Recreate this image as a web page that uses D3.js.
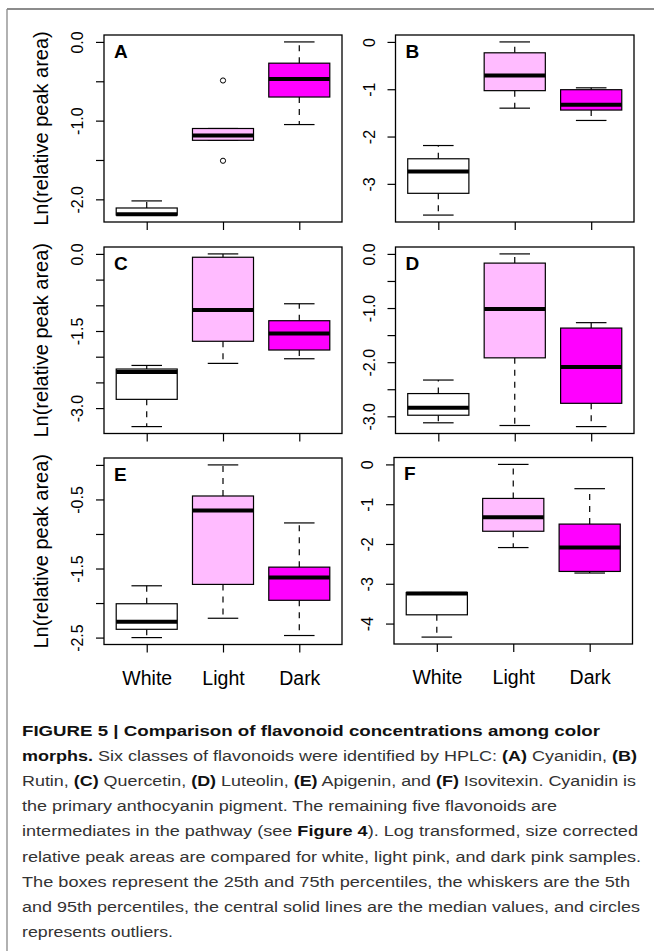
<!DOCTYPE html>
<html><head><meta charset="utf-8">
<script src="https://cdn.jsdelivr.net/npm/d3@7/dist/d3.min.js"></script>
<style>body{margin:0;background:#fff}</style>
</head><body><svg id="fig" width="654" height="951"></svg>
<script>
// ---------------- data ----------------
const categories = ["White", "Light", "Dark"];
const panelLetters = ["A", "B", "C", "D", "E", "F"];
const yTitle = "Ln(relative peak area)";

// per panel: [White, Light, Dark]
const whiskerLow = [
  [-2.20, -1.25, -1.05],
  [-3.66, -1.40, -1.66],
  [-3.36, -2.13, -2.04],
  [-3.12, -3.17, -3.19],
  [-2.50, -2.22, -2.47],
  [-4.34, -2.09, -2.73]];
const q1 = [
  [-2.20, -1.25, -0.70],
  [-3.20, -1.03, -1.44],
  [-2.83, -1.70, -1.87],
  [-2.98, -1.92, -2.76],
  [-2.38, -1.73, -1.96],
  [-3.78, -1.68, -2.69]];
const median = [
  [-2.19, -1.19, -0.47],
  [-2.74, -0.71, -1.33],
  [-2.30, -1.09, -1.55],
  [-2.84, -1.02, -2.09],
  [-2.27, -0.66, -1.63],
  [-3.245, -1.33, -2.09]];
const q3 = [
  [-2.11, -1.10, -0.27],
  [-2.47, -0.23, -1.01],
  [-2.24, -0.065, -1.30],
  [-2.58, -0.17, -1.37],
  [-2.01, -0.45, -1.48],
  [-3.22, -0.855, -1.50]];
const whiskerHigh = [
  [-2.02, -1.10, 0.00],
  [-2.19, 0.00, -0.97],
  [-2.17, 0.00, -0.97],
  [-2.33, 0.00, -1.27],
  [-1.75, 0.00, -0.84],
  [-3.22, 0.00, -0.61]];
const outliers = [
  [[], [-0.49, -1.51], []],
  [[], [], []],
  [[], [], []],
  [[], [], []],
  [[], [], []],
  [[], [], []]];

const yTicks = [
  [0, -0.5, -1, -1.5, -2],
  [0, -1, -2, -3],
  [0, -0.5, -1, -1.5, -2, -2.5, -3],
  [0, -0.5, -1, -1.5, -2, -2.5, -3],
  [0, -0.5, -1, -1.5, -2, -2.5],
  [0, -1, -2, -3, -4]];
const yTickLabels = [
  ["0.0", "", "-1.0", "", "-2.0"],
  ["0", "-1", "-2", "-3"],
  ["0.0", "", "", "-1.5", "", "", "-3.0"],
  ["0.0", "", "-1.0", "", "-2.0", "", "-3.0"],
  ["", "-0.5", "", "-1.5", "", "-2.5"],
  ["0", "-1", "-2", "-3", "-4"]];

const captionLines = [
  [["FIGURE 5 | Comparison of flavonoid concentrations among color", true]],
  [["morphs.", true], [" Six classes of flavonoids were identified by HPLC: ", false], ["(A)", true], [" Cyanidin, ", false], ["(B)", true]],
  [["Rutin, ", false], ["(C)", true], [" Quercetin, ", false], ["(D)", true], [" Luteolin, ", false], ["(E)", true], [" Apigenin, and ", false], ["(F)", true], [" Isovitexin. Cyanidin is", false]],
  [["the primary anthocyanin pigment. The remaining five flavonoids are", false]],
  [["intermediates in the pathway (see ", false], ["Figure 4", true], ["). Log transformed, size corrected", false]],
  [["relative peak areas are compared for white, light pink, and dark pink samples.", false]],
  [["The boxes represent the 25th and 75th percentiles, the whiskers are the 5th", false]],
  [["and 95th percentiles, the central solid lines are the median values, and circles", false]],
  [["represents outliers.", false]]];

// ---------------- style / layout ----------------
const boxFills = ["#FFFFFF", "#FFBBFF", "#FF00FF"];
const FONT = "'Liberation Sans', Arial, Helvetica, sans-serif";
const panelRects = [
  {x0: 104, x1: 342, y0: 35, y1: 222},
  {x0: 395.5, x1: 634, y0: 35, y1: 222},
  {x0: 104, x1: 342, y0: 247, y1: 433.5},
  {x0: 395.5, x1: 634, y0: 247, y1: 433.5},
  {x0: 104, x1: 342, y0: 458, y1: 644.5},
  {x0: 394, x1: 632.5, y0: 457.5, y1: 644}];
const captionEnds = [600, 637, 636, 557, 638, 641, 630, 640, 173];

const svg = d3.select("#fig");
svg.append("rect").attr("width", 654).attr("height", 951).attr("fill", "#fff");

// outer frame (top + left)
svg.append("line").attr("x1", 7).attr("x2", 654).attr("y1", 9).attr("y2", 9)
  .attr("stroke", "#666").attr("stroke-width", 1.3);
svg.append("line").attr("x1", 7).attr("x2", 7).attr("y1", 9).attr("y2", 951)
  .attr("stroke", "#888").attr("stroke-width", 1.3);

panelLetters.forEach((letter, i) => {
  const r = panelRects[i];
  const g = svg.append("g");
  const x = d3.scaleLinear().domain([0.44, 3.56]).range([r.x0, r.x1]);
  const allVals = [].concat(whiskerLow[i], whiskerHigh[i], ...outliers[i]);
  const lo = d3.min(allVals), hi = d3.max(allVals), pad = (hi - lo) * 0.04;
  const y = d3.scaleLinear().domain([lo - pad, hi + pad]).range([r.y1, r.y0]);

  // y axis
  const ya = g.append("g").attr("transform", `translate(${r.x0},0)`)
    .call(d3.axisLeft(y).tickValues(yTicks[i]).tickSize(8).tickSizeOuter(0)
      .tickFormat((d, j) => yTickLabels[i][j]));
  ya.select(".domain").remove();
  ya.selectAll(".tick line").attr("stroke", "#000").attr("stroke-width", 1.2);
  ya.selectAll(".tick text").attr("x", 0).attr("y", -21).attr("dy", 0)
    .attr("transform", "rotate(-90)").attr("text-anchor", "middle")
    .attr("font-family", FONT).attr("font-size", 16).attr("fill", "#000");

  // x axis
  const bottom = i >= 4;
  const xa = g.append("g").attr("transform", `translate(0,${r.y1})`)
    .call(d3.axisBottom(x).tickValues([1, 2, 3]).tickSize(8).tickSizeOuter(0)
      .tickFormat((d, j) => bottom ? categories[j] : ""));
  xa.select(".domain").remove();
  xa.selectAll(".tick line").attr("stroke", "#000").attr("stroke-width", 1.2);
  xa.selectAll(".tick text").attr("y", 40).attr("dy", 0)
    .attr("font-family", FONT).attr("font-size", 19.5).attr("fill", "#000");

  // boxes
  categories.forEach((c, j) => {
    const cx = x(j + 1), bl = x(j + 1 - 0.4), br = x(j + 1 + 0.4);
    const sl = x(j + 1 - 0.2), sr = x(j + 1 + 0.2);
    // whiskers (dashed)
    [[q3[i][j], whiskerHigh[i][j]], [q1[i][j], whiskerLow[i][j]]].forEach(([a, b]) => {
      if (a !== b) g.append("line").attr("x1", cx).attr("x2", cx)
        .attr("y1", y(a)).attr("y2", y(b)).attr("stroke", "#000")
        .attr("stroke-width", 1.2).attr("stroke-dasharray", "6,6");
    });
    // staples
    [whiskerHigh[i][j], whiskerLow[i][j]].forEach(v => {
      g.append("line").attr("x1", sl).attr("x2", sr).attr("y1", y(v)).attr("y2", y(v))
        .attr("stroke", "#000").attr("stroke-width", 1.2);
    });
    // box
    g.append("rect").attr("x", bl).attr("width", br - bl)
      .attr("y", y(q3[i][j])).attr("height", Math.max(0.5, y(q1[i][j]) - y(q3[i][j])))
      .attr("fill", boxFills[j]).attr("stroke", "#000").attr("stroke-width", 1.2);
    // median
    g.append("line").attr("x1", bl).attr("x2", br)
      .attr("y1", y(median[i][j])).attr("y2", y(median[i][j]))
      .attr("stroke", "#000").attr("stroke-width", 4);
    // outliers
    outliers[i][j].forEach(v => {
      g.append("circle").attr("cx", cx).attr("cy", y(v)).attr("r", 2.6)
        .attr("fill", "none").attr("stroke", "#000").attr("stroke-width", 1);
    });
  });

  // plot frame
  g.append("rect").attr("x", r.x0).attr("y", r.y0)
    .attr("width", r.x1 - r.x0).attr("height", r.y1 - r.y0)
    .attr("fill", "none").attr("stroke", "#000").attr("stroke-width", 1.3);

  // panel letter
  g.append("text").attr("x", r.x0 + 10).attr("y", r.y0 + 22.5)
    .attr("font-family", FONT).attr("font-weight", "bold").attr("font-size", 19)
    .text(letter);

  // y title on left column
  if (i % 2 === 0) {
    g.append("text")
      .attr("transform", `translate(48,${(r.y0 + r.y1) / 2}) rotate(-90)`)
      .attr("text-anchor", "middle").attr("font-family", FONT).attr("font-size", 20)
      .text(yTitle);
  }
});

// caption
const capY0 = 735.5, capStep = 25.2, capX = 22;
captionLines.forEach((segs, k) => {
  const t = svg.append("text").attr("x", capX).attr("y", capY0 + k * capStep)
    .attr("font-family", FONT).attr("font-size", 15.5).attr("fill", "#222")
    .attr("textLength", captionEnds[k] - capX).attr("lengthAdjust", "spacingAndGlyphs");
  segs.forEach(([s, b]) => {
    t.append("tspan").attr("font-weight", b ? "bold" : "normal")
      .attr("fill", b ? "#111" : "#333").text(s);
  });
});
</script></body></html>
